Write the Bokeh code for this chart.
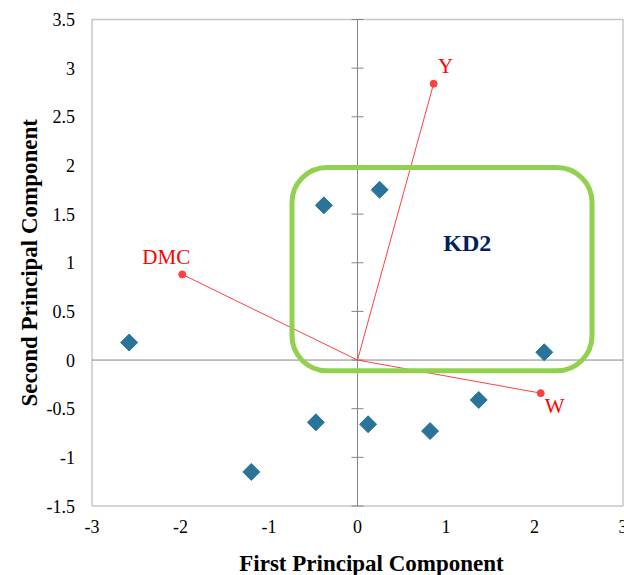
from bokeh.plotting import figure
from bokeh.models import BoxAnnotation, Range1d
from bokeh.core.properties import value
from bokeh.embed import file_html
from bokeh.resources import INLINE
import numpy as np

# ---- data ----
x_ticks = [-3, -2, -1, 0, 1, 2, 3]
x_tick_labels = ["-3", "-2", "-1", "0", "1", "2", "3"]
y_ticks = [-1.5, -1, -0.5, 0, 0.5, 1, 1.5, 2, 2.5, 3, 3.5]
y_tick_labels = ["-1.5", "-1", "-0.5", "0", "0.5", "1", "1.5", "2", "2.5", "3", "3.5"]
x_title = "First Principal Component"
y_title = "Second Principal Component"

score_x = [-2.58, -1.20, -0.47, -0.38, 0.25, 0.12, 0.82, 1.37, 2.11]
score_y = [0.18, -1.15, -0.64, 1.59, 1.75, -0.66, -0.73, -0.41, 0.08]

load_names = ["DMC", "Y", "W"]
load_x = [-1.98, 0.86, 2.07]
load_y = [0.88, 2.84, -0.34]

group_name = "KD2"
group_label_x = [1.24]
group_label_y = [1.20]
group_left, group_right, group_bottom, group_top = -0.74, 2.65, -0.11, 1.98

X_MIN, X_MAX = -3, 3
Y_MIN, Y_MAX = -1.5, 3.5

# ---- layout (pixels) ----
W, H = 624, 575
BOX_L, BOX_R, BOX_T, BOX_B = 91.5, 622.5, 19, 505.5  # visible plot area

px_x = (BOX_R - BOX_L) / (X_MAX - X_MIN)
px_y = (BOX_B - BOX_T) / (Y_MAX - Y_MIN)
x_range = Range1d(X_MIN - BOX_L / px_x, X_MAX + (W - BOX_R) / px_x)
y_range = Range1d(Y_MIN - (H - BOX_B) / px_y, Y_MAX + BOX_T / px_y)

# ---- styling helpers (screen offsets for labels) ----
label_dx = [-16, 12, 14]
label_dy = [-17, -18, 13]

SERIF = "Liberation Serif"
AXIS_GRAY = "#868686"

p = figure(width=W, height=H, x_range=x_range, y_range=y_range,
           output_backend="svg", toolbar_location=None,
           min_border_left=0, min_border_right=0, min_border_top=0, min_border_bottom=0)

p.background_fill_color = "white"
p.border_fill_color = "white"
p.outline_line_color = None
p.xgrid.visible = False
p.ygrid.visible = False
p.xaxis.visible = False
p.yaxis.visible = False

# visible plot area border
p.quad(left=[X_MIN], right=[X_MAX], bottom=[Y_MIN], top=[Y_MAX],
       fill_color=None, line_color="#C8C8C8", line_width=1.5)

# tick labels (serif) at the plot-area edges
p.text(x=x_ticks, y=[Y_MIN] * len(x_ticks), text=x_tick_labels, y_offset=14,
       text_font=value(SERIF), text_font_size="18px", text_color="black",
       text_align="center", text_baseline="top")
p.text(x=[X_MIN] * len(y_ticks), y=y_ticks, text=y_tick_labels, x_offset=-17,
       text_font=value(SERIF), text_font_size="18px", text_color="black",
       text_align="right", text_baseline="middle")

# axis titles
p.text(x=[(X_MIN + X_MAX) / 2], y=[Y_MIN], text=[x_title], x_offset=14, y_offset=45,
       text_font=value(SERIF), text_font_style="bold", text_font_size="23px",
       text_color="black", text_align="center", text_baseline="top")
p.text(x=[X_MIN], y=[(Y_MIN + Y_MAX) / 2], text=[y_title], x_offset=-63, angle=np.pi / 2,
       text_font=value(SERIF), text_font_style="bold", text_font_size="23px",
       text_color="black", text_align="center", text_baseline="middle")

# crossing axes at zero
p.segment(x0=[0, X_MIN], y0=[Y_MIN, 0], x1=[0, X_MAX], y1=[Y_MAX, 0],
          line_color=AXIS_GRAY, line_width=1)
p.scatter(x=[0] * len(y_ticks), y=y_ticks, marker="dash", size=12,
          line_color=AXIS_GRAY, line_width=1)

# loading vectors
p.segment(x0=[0] * len(load_x), y0=[0] * len(load_y), x1=load_x, y1=load_y,
          line_color="#FF4040", line_width=1)
p.scatter(x=load_x, y=load_y, marker="circle", size=7,
          fill_color="#FF4040", line_color="#FF4040")
p.text(x=load_x, y=load_y, text=load_names, x_offset=label_dx, y_offset=label_dy,
       text_font=value(SERIF), text_font_size="21px", text_color="#FF0000",
       text_align="center", text_baseline="middle")

# scores
p.scatter(x=score_x, y=score_y, marker="square", angle=np.pi / 4, size=12,
          fill_color="#2A7399", line_color="#2A7399")

# group box
box = BoxAnnotation(left=group_left, right=group_right, bottom=group_bottom, top=group_top,
                    fill_alpha=0, line_color="#92D050", line_alpha=1.0, line_width=5,
                    border_radius=35)
p.add_layout(box)
p.text(x=group_label_x, y=group_label_y, text=[group_name],
       text_font=value(SERIF), text_font_style="bold", text_font_size="24px",
       text_color="#002060", text_align="center", text_baseline="middle")

open("out.html", "w").write(file_html(p, INLINE))
